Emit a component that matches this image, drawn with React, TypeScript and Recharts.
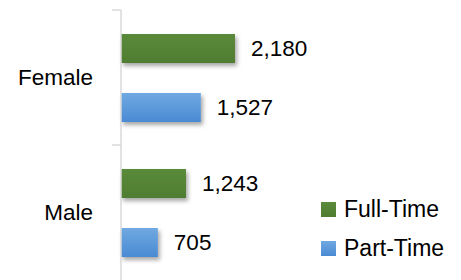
import React from "react";
import { BarChart, Bar, XAxis, YAxis, Legend, LabelList } from "recharts";

const categories = ["Female", "Male"];
const fullTime = [2180, 1243];
const partTime = [1527, 705];
const seriesNames = ["Full-Time", "Part-Time"];

const data = categories.map((c, i) => ({ name: c, full: fullTime[i], part: partTime[i] }));

const FONT = "'Liberation Sans', Arial, sans-serif";

const CategoryTick = (props: any) => {
  const { x, y, payload } = props;
  const off = payload && typeof payload.offset === "number" ? payload.offset : 0;
  return (
    <g>
      <line x1={x + 19} x2={x + 28} y1={y - off} y2={y - off} stroke="#d9d9d9" strokeWidth={1.5} />
      <text x={x} y={y} dy="0.35em" textAnchor="end" fontSize={22.5} fill="#000" fontFamily={FONT}>
        {payload.value}
      </text>
    </g>
  );
};

const LegendContent = () => (
  <div style={{ fontFamily: FONT, fontSize: 23, color: "#000" }}>
    {seriesNames.map((n, i) => (
      <div key={n} style={{ display: "flex", alignItems: "center", height: 39 }}>
        <svg width={15} height={15} style={{ marginRight: 8 }}>
          <rect x={0} y={0} width={15} height={15} fill={i === 0 ? "url(#gGreen)" : "url(#gBlue)"} />
        </svg>
        <span>{n}</span>
      </div>
    ))}
  </div>
);

export default function App() {
  return (
    <div style={{ position: "absolute", left: 0, top: 0 }}>
      <svg width={0} height={0} style={{ position: "absolute" }}>
        <defs>
          <linearGradient id="gGreen" x1="0" y1="0" x2="0" y2="1">
            <stop offset="0%" stopColor="#5a8a3a" />
            <stop offset="100%" stopColor="#4f7d31" />
          </linearGradient>
          <linearGradient id="gBlue" x1="0" y1="0" x2="0" y2="1">
            <stop offset="0%" stopColor="#70a9e2" />
            <stop offset="100%" stopColor="#4a8ad3" />
          </linearGradient>
          <filter id="shadow" x="-10%" y="-30%" width="130%" height="180%">
            <feDropShadow dx="2" dy="3" stdDeviation="2" floodColor="#000" floodOpacity="0.35" />
          </filter>
        </defs>
      </svg>
      <BarChart
        width={461}
        height={280}
        data={data}
        layout="vertical"
        margin={{ top: 10, right: 157, bottom: 0, left: 0 }}
        barSize={29}
        barGap={30}
      >
        <XAxis type="number" hide domain={[0, 3500]} />
        <YAxis
          type="category"
          dataKey="name"
          width={121}
          axisLine={{ stroke: "#d9d9d9", strokeWidth: 1.5 }}
          tickLine={false}
          tickSize={9}
          tickMargin={19}
          tick={<CategoryTick />}
        />
        <Legend
          layout="horizontal"
          verticalAlign="middle"
          align="center"
          content={<LegendContent />}
          wrapperStyle={{ left: 321, top: 190, width: "auto" }}
        />
        <Bar dataKey="full" name={seriesNames[0]} fill="url(#gGreen)" filter="url(#shadow)" isAnimationActive={false}>
          <LabelList
            dataKey="full"
            position="right"
            offset={16}
            formatter={(v: any) => Number(v).toLocaleString("en-US")}
            style={{ fontSize: 22.5, fill: "#000", fontFamily: FONT }}
          />
        </Bar>
        <Bar dataKey="part" name={seriesNames[1]} fill="url(#gBlue)" filter="url(#shadow)" isAnimationActive={false}>
          <LabelList
            dataKey="part"
            position="right"
            offset={16}
            formatter={(v: any) => Number(v).toLocaleString("en-US")}
            style={{ fontSize: 22.5, fill: "#000", fontFamily: FONT }}
          />
        </Bar>
      </BarChart>
    </div>
  );
}
